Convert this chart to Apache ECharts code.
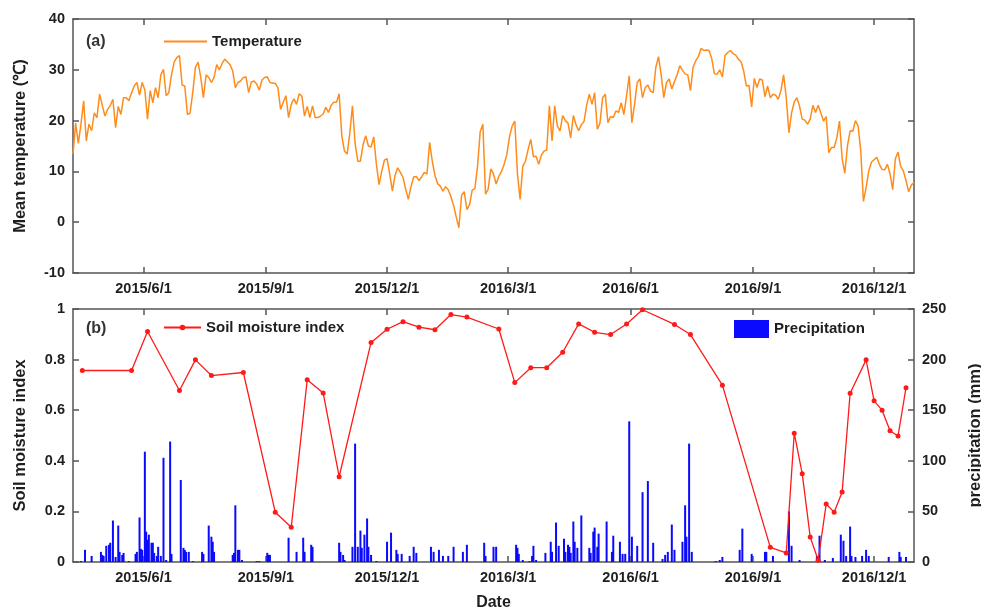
<!DOCTYPE html>
<html>
<head>
<meta charset="utf-8">
<script src="https://cdn.jsdelivr.net/npm/echarts@6/dist/echarts.min.js"></script>
<style>
html, body { margin: 0; padding: 0; background: #fff; }
#main { width: 981px; height: 611px; }
</style>
</head>
<body>
<div id="main"></div>
<script>
// daily mean temperature, read every 2 days starting 2015-04-09
var tempStart = '2015-04-09';
var tempStepDays = 2;
var tempValues = [
	13.4, 19.5, 15.5, 19.3, 23.9, 16, 19.3, 18, 21.5, 20.6,
	25.2, 23, 20.9, 22.2, 23, 24.2, 18.6, 22.8, 21.2, 24.5,
	24.5, 23.9, 25.5, 26.8, 27.5, 25, 27.5, 26, 20.3, 25.9,
	23.5, 26.5, 24.5, 29, 30.1, 24.9, 25.5, 29, 31.5, 32.4,
	32.8, 27, 26.8, 21.2, 21.5, 25.5, 30.5, 31.5, 28.5, 24.5,
	29, 28.5, 27.5, 28.5, 31, 30, 31.2, 32.1, 31.6, 31,
	29.8, 26.5, 27.5, 27.8, 28.5, 28.6, 25.5, 27.6, 27.8, 27.2,
	26, 28, 28.5, 28.6, 27.5, 27.4, 27.3, 26.5, 22.2, 23.6,
	24.9, 20.6, 23.2, 24.3, 23.2, 25.3, 24.8, 20.9, 22.8, 20.6,
	22.9, 20.6, 20.6, 20.9, 21.3, 22.6, 21.6, 23.0, 23.6, 23.6,
	25.3, 17.0, 14.0, 13.4, 17.5, 22.9, 15.5, 12.0, 12.0, 15.3,
	17.0, 15.0, 14.8, 16.8, 11.4, 7.4, 10.0, 12.2, 12.5, 9.5,
	6.1, 9.2, 10.7, 9.8, 8.8, 6.5, 4.5, 7.0, 8.9, 9.0,
	8.2, 8.9, 9.8, 9.5, 15.7, 12.0, 9.2, 7.6, 7.1, 6.1,
	7.0, 6.4, 5.0, 3.3, 1.0, -1.1, 5.3, 6.0, 2.5, 3.4,
	6.3, 6.6, 11.0, 17.8, 19.3, 5.5, 6.5, 10.5, 9.5,
	7.5, 9.0, 10.0, 11.4, 13.3, 16.8, 18.9, 19.9, 9.5, 4.5,
	11.0, 12.0, 14.3, 16.3, 12.9, 13.0, 11.4, 13.2, 14.0, 14.2,
	22.9, 16.0, 22.9, 18.9, 18.0, 21.0, 20.0, 19.5, 16.6, 21.0,
	19.2, 18.0, 19.2, 19.8, 23.0, 25.2, 23.2, 25.5, 18.3, 19.5,
	24.5, 25.2, 19.6, 20.8, 20.6, 21.9, 21.6, 23.5, 21.2, 24.9,
	28.8, 19.6, 23.2, 27.5, 28.2, 24.5, 26.5, 27.0, 25.8, 25.5,
	30.5, 32.6, 29.0, 24.5, 27.5, 28.2, 26.2, 27.7, 29.0, 30.8,
	29.9, 29.2, 29.0, 25.9, 30.5, 31.8, 32.6, 34.2, 33.8,
	33.9, 33.8, 32.2, 29.2, 29.1, 30.0, 28.6, 32.8, 33.4, 33.8,
	33.2, 32.9, 32.1, 31.6, 29.8, 26.8, 26.9, 22.7, 28.3, 26.5,
	28.2, 28.0, 24.7, 26.8, 24.5, 25.2, 25.0, 24.2, 25.9, 29.0,
	24.5, 17.6, 21.5, 23.7, 24.5, 22.8, 20.3, 20.1, 19.3, 20.3,
	23.0, 21.6, 23.0, 21.5, 19.9, 20.8, 13.7, 14.7, 14.7, 16.6,
	19.9, 12.5, 9.6, 15.0, 18.0, 17.9, 20.0, 18.9, 14.0, 4.1,
	6.8, 10.1, 11.8, 12.3, 12.8, 11.4, 10.4, 10.3, 11.4, 9.5,
	6.4, 12.5, 13.8, 11.0, 10.1, 8.2, 6.0, 7.3, 7.8
];

// soil moisture index
var smiDates = [
	'2015-04-16', '2015-05-23', '2015-06-04', '2015-06-28', '2015-07-10', '2015-07-22',
	'2015-08-15', '2015-09-08', '2015-09-20', '2015-10-02', '2015-10-14', '2015-10-26',
	'2015-11-19', '2015-12-01', '2015-12-13', '2015-12-25', '2016-01-06', '2016-01-18',
	'2016-01-30', '2016-02-23', '2016-03-06', '2016-03-18', '2016-03-30', '2016-04-11',
	'2016-04-23', '2016-05-05', '2016-05-17', '2016-05-29', '2016-06-10', '2016-07-04',
	'2016-07-16', '2016-08-09', '2016-09-14', '2016-09-26', '2016-10-02', '2016-10-08',
	'2016-10-14', '2016-10-20', '2016-10-26', '2016-11-01', '2016-11-07', '2016-11-13',
	'2016-11-25', '2016-12-01', '2016-12-07', '2016-12-13', '2016-12-19', '2016-12-25'
];
var smiValues = [
	0.757, 0.757, 0.911, 0.678, 0.799, 0.737,
	0.749, 0.197, 0.137, 0.72, 0.668, 0.337,
	0.868, 0.92, 0.95, 0.928, 0.918, 0.978,
	0.968, 0.921, 0.709, 0.768, 0.768, 0.829,
	0.941, 0.908, 0.899, 0.941, 0.997, 0.939,
	0.899, 0.699, 0.058, 0.036, 0.509, 0.349,
	0.099, 0.007, 0.229, 0.197, 0.277, 0.667,
	0.799, 0.637, 0.6, 0.519, 0.498, 0.689
];

// daily precipitation (mm), rainy days only
var precipDates = [
	'2015-04-15', '2015-04-18', '2015-04-23', '2015-04-30', '2015-05-01', '2015-05-02', '2015-05-04', '2015-05-06',
	'2015-05-07', '2015-05-09', '2015-05-11', '2015-05-13', '2015-05-14', '2015-05-16', '2015-05-17', '2015-05-21',
	'2015-05-26', '2015-05-27', '2015-05-29', '2015-05-30', '2015-05-31', '2015-06-02', '2015-06-03', '2015-06-04',
	'2015-06-05', '2015-06-07', '2015-06-08', '2015-06-09', '2015-06-11', '2015-06-12', '2015-06-14', '2015-06-16',
	'2015-06-18', '2015-06-21', '2015-06-22', '2015-06-29', '2015-07-01', '2015-07-02', '2015-07-03', '2015-07-05',
	'2015-07-08', '2015-07-15', '2015-07-16', '2015-07-20', '2015-07-22', '2015-07-23', '2015-07-24', '2015-08-07',
	'2015-08-08', '2015-08-09', '2015-08-11', '2015-08-12', '2015-08-14', '2015-08-25', '2015-08-27', '2015-09-02',
	'2015-09-03', '2015-09-04', '2015-09-18', '2015-09-24', '2015-09-29', '2015-09-30', '2015-10-05', '2015-10-06',
	'2015-10-26', '2015-10-27', '2015-10-29', '2015-10-30', '2015-11-05', '2015-11-07', '2015-11-09', '2015-11-11',
	'2015-11-12', '2015-11-14', '2015-11-16', '2015-11-17', '2015-11-19', '2015-11-23', '2015-12-01', '2015-12-04',
	'2015-12-08', '2015-12-09', '2015-12-12', '2015-12-18', '2015-12-21', '2015-12-23', '2016-01-03', '2016-01-05',
	'2016-01-09', '2016-01-12', '2016-01-16', '2016-01-20', '2016-01-27', '2016-01-30', '2016-02-12', '2016-02-13',
	'2016-02-19', '2016-02-21', '2016-03-07', '2016-03-08', '2016-03-09', '2016-03-12', '2016-03-17', '2016-03-19',
	'2016-03-20', '2016-03-22', '2016-03-29', '2016-04-02', '2016-04-03', '2016-04-06', '2016-04-08', '2016-04-12',
	'2016-04-13', '2016-04-15', '2016-04-16', '2016-04-17', '2016-04-19', '2016-04-20', '2016-04-22', '2016-04-25',
	'2016-05-01', '2016-05-02', '2016-05-04', '2016-05-05', '2016-05-07', '2016-05-08', '2016-05-14', '2016-05-18',
	'2016-05-19', '2016-05-24', '2016-05-26', '2016-05-28', '2016-05-31', '2016-06-02', '2016-06-06', '2016-06-10',
	'2016-06-14', '2016-06-18', '2016-06-25', '2016-06-27', '2016-06-29', '2016-07-02', '2016-07-04', '2016-07-10',
	'2016-07-12', '2016-07-13', '2016-07-15', '2016-07-17', '2016-08-04', '2016-08-07', '2016-08-09', '2016-08-22',
	'2016-08-24', '2016-08-31', '2016-09-10', '2016-09-11', '2016-09-16', '2016-09-28', '2016-09-30', '2016-10-06',
	'2016-10-19', '2016-10-21', '2016-10-25', '2016-10-31', '2016-11-06', '2016-11-08', '2016-11-10', '2016-11-13',
	'2016-11-14', '2016-11-17', '2016-11-22', '2016-11-25', '2016-11-27', '2016-12-12', '2016-12-20', '2016-12-21',
	'2016-12-25'
];
var precipValues = [
	1, 12, 6, 10, 7, 6, 16, 17,
	19, 41, 5, 36, 10, 7, 9, 1,
	8, 10, 44, 13, 12, 109, 30, 22,
	27, 19, 19, 9, 6, 15, 6, 103,
	2, 119, 8, 81, 14, 12, 10, 10,
	1, 10, 8, 36, 25, 20, 10, 7,
	9, 56, 12, 12, 2, 1, 1, 9,
	7, 7, 24, 10, 24, 10, 17, 15,
	19, 10, 7, 2, 15, 117, 15, 31,
	14, 27, 43, 15, 7, 1, 20, 29,
	12, 8, 8, 6, 15, 9, 15, 10,
	12, 6, 6, 15, 10, 17, 19, 6,
	15, 15, 17, 14, 8, 2, 1, 6,
	16, 2, 9, 20, 10, 39, 16, 23,
	10, 17, 15, 9, 40, 20, 14, 46,
	14, 9, 30, 34, 15, 28, 40, 10,
	26, 20, 8, 8, 139, 25, 16, 69,
	80, 19, 3, 7, 10, 37, 12, 20,
	56, 25, 117, 10, 1, 2, 5, 12,
	33, 8, 10, 10, 6, 50, 16, 2,
	6, 26, 2, 4, 27, 21, 6, 35,
	6, 5, 6, 12, 6, 5, 10, 5,
	5
];

var tickDates = ['2015-06-01', '2015-09-01', '2015-12-01', '2016-03-01', '2016-06-01', '2016-09-01', '2016-12-01'];
var axisStart = '2015-04-09';
var axisEnd = '2016-12-31';

function toTime(s) {
	var p = s.split('-');
	return new Date(+p[0], +p[1] - 1, +p[2]).getTime();
}
function fmtDate(v) {
	var d = new Date(v);
	return d.getFullYear() + '/' + (d.getMonth() + 1) + '/' + d.getDate();
}

var tempData = [];
var t0 = toTime(tempStart);
for (var i = 0; i < tempValues.length; i++) {
	var d = new Date(t0);
	d.setDate(d.getDate() + i * tempStepDays);
	tempData.push([d.getTime(), tempValues[i]]);
}
var smiData = smiDates.map(function (s, i) { return [toTime(s), smiValues[i]]; });
var precipData = precipDates.map(function (s, i) { return [toTime(s), precipValues[i]]; });
var ticks = tickDates.map(toTime);

var FONT = 'Liberation Sans, Arial, sans-serif';
var TXT = '#1e1e1e';
var AX = '#555';

// date axis drawn as a value axis of timestamps so the quarterly ticks can be placed exactly
function xAxisFor(grid, pos, labels, name) {
	return {
		type: 'value',
		gridIndex: grid,
		position: pos,
		min: toTime(axisStart),
		max: toTime(axisEnd),
		name: name || '',
		nameLocation: 'middle',
		nameGap: 33,
		nameTextStyle: { fontFamily: FONT, fontWeight: 'bold', fontSize: 16, color: TXT },
		axisLine: { show: true, onZero: false, lineStyle: { color: AX, width: 1.5 } },
		axisTick: { show: true, inside: true, length: 6, customValues: ticks, lineStyle: { color: AX, width: 1.5 } },
		axisLabel: {
			show: labels, customValues: ticks, formatter: fmtDate, margin: 8,
			fontFamily: FONT, fontWeight: 'bold', fontSize: 14.5, color: TXT
		},
		splitLine: { show: false }
	};
}
function yAxisFor(grid, pos, min, max, interval, labels, name, gap) {
	return {
		type: 'value',
		gridIndex: grid,
		position: pos,
		min: min, max: max, interval: interval,
		name: name || '',
		nameLocation: 'middle',
		nameRotate: 90,
		nameGap: gap || 0,
		nameTextStyle: { fontFamily: FONT, fontWeight: 'bold', fontSize: 16.5, color: TXT },
		axisLine: { show: true, onZero: false, lineStyle: { color: AX, width: 1.5 } },
		axisTick: { show: true, inside: true, length: 6, lineStyle: { color: AX, width: 1.5 } },
		axisLabel: { show: labels, margin: 8, fontFamily: FONT, fontWeight: 'bold', fontSize: 14.5, color: TXT },
		splitLine: { show: false }
	};
}

var legendText = { fontFamily: FONT, fontWeight: 'bold', fontSize: 15, color: TXT };

var myChart = echarts.init(document.getElementById('main'));
var option = {
	backgroundColor: '#fff',
	animation: false,
	textStyle: { fontFamily: FONT },
	grid: [
		{ left: 73, right: 67, top: 19, height: 254, outerBoundsMode: 'none', containLabel: false },
		{ left: 73, right: 67, top: 309, height: 253, outerBoundsMode: 'none', containLabel: false }
	],
	legend: [
		{
			left: 159, top: 29, itemWidth: 43, itemHeight: 2,
			data: [{ name: 'Temperature', icon: 'rect' }],
			textStyle: legendText
		},
		{
			left: 158, top: 315, itemWidth: 37, itemHeight: 7,
			data: ['Soil moisture index'],
			textStyle: legendText
		},
		{
			left: 729, top: 315, itemWidth: 35, itemHeight: 18,
			data: [{ name: 'Precipitation', icon: 'rect' }],
			textStyle: legendText
		}
	],
	graphic: [
		{ type: 'text', left: 86, top: 34, style: { text: '(a)', font: 'bold 16px ' + FONT, fill: '#333' } },
		{ type: 'text', left: 86, top: 321, style: { text: '(b)', font: 'bold 16px ' + FONT, fill: '#333' } }
	],
	xAxis: [
		xAxisFor(0, 'bottom', true),
		xAxisFor(0, 'top', false),
		xAxisFor(1, 'bottom', true, 'Date'),
		xAxisFor(1, 'top', false)
	],
	yAxis: [
		yAxisFor(0, 'left', -10, 40, 10, true, 'Mean temperature (\u2103)', 44),
		yAxisFor(0, 'right', -10, 40, 10, false),
		yAxisFor(1, 'left', 0, 1, 0.2, true, 'Soil moisture index', 44),
		yAxisFor(1, 'right', 0, 250, 50, true, 'precipitation (mm)', 53)
	],
	series: [
		{
			name: 'Temperature', type: 'line', xAxisIndex: 0, yAxisIndex: 0,
			data: tempData, showSymbol: false, symbol: 'none',
			lineStyle: { color: '#ff8c1a', width: 1.5 }, itemStyle: { color: '#ff8c1a' }
		},
		{
			name: 'Precipitation', type: 'bar', xAxisIndex: 2, yAxisIndex: 3,
			data: precipData, barWidth: 2,
			itemStyle: { color: '#0a0aff' }
		},
		{
			name: 'Soil moisture index', type: 'line', xAxisIndex: 2, yAxisIndex: 2,
			data: smiData, symbol: 'circle', symbolSize: 5,
			lineStyle: { color: '#ff1a1a', width: 1.3 }, itemStyle: { color: '#ff1a1a' }, z: 5
		}
	]
};
myChart.setOption(option, true);
</script>
</body>
</html>
